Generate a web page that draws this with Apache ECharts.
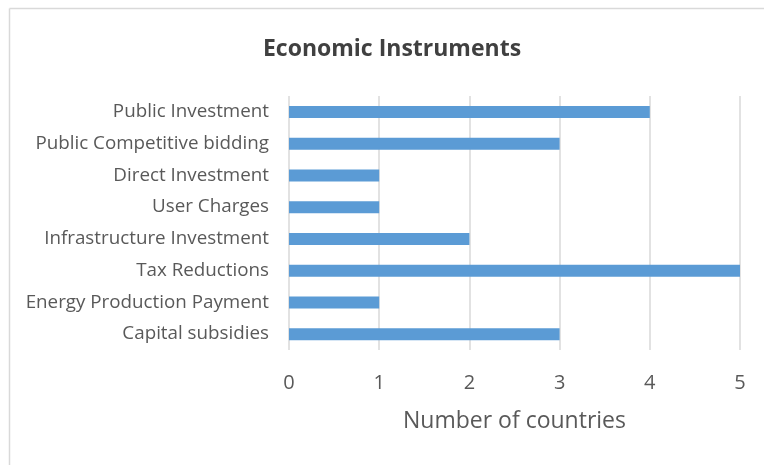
<!DOCTYPE html>
<html>
<head>
<meta charset="utf-8">
<script src="https://cdn.jsdelivr.net/npm/echarts@6/dist/echarts.min.js"></script>
<style>
  html, body { margin: 0; padding: 0; background: #fff; }
  #chart { width: 764px; height: 465px; }
</style>
</head>
<body>
<div id="chart"></div>
<script>
// Instrument names, listed top to bottom
const categories = [
  'Public Investment',
  'Public Competitive bidding',
  'Direct Investment',
  'User Charges',
  'Infrastructure Investment',
  'Tax Reductions',
  'Energy Production Payment',
  'Capital subsidies'
];
// Number of countries using each instrument
const countries = [4, 3, 1, 1, 2, 5, 1, 3];
const xTicks = [0, 1, 2, 3, 4, 5];

const FONT = 'Open Sans';
const chart = echarts.init(document.getElementById('chart'), null, { renderer: 'canvas' });

chart.setOption({
  backgroundColor: '#ffffff',
  animation: false,
  title: {
    text: 'Economic Instruments',
    left: 387,
    top: 33,
    textAlign: 'center',
    textStyle: { fontFamily: FONT, fontSize: 23, fontWeight: 'bold', color: '#404040' }
  },
  // chart frame: only its left and top edges fall inside the canvas
  graphic: [
    { type: 'line', shape: { x1: 9.5, y1: 8.5, x2: 9.5, y2: 470 },
      style: { stroke: '#d9d9d9', lineWidth: 1.5 }, silent: true },
    { type: 'line', shape: { x1: 9.5, y1: 8.5, x2: 770, y2: 8.5 },
      style: { stroke: '#d9d9d9', lineWidth: 1.5 }, silent: true }
  ],
  grid: { left: 289, right: 24, top: 96, bottom: 115, containLabel: false },
  xAxis: {
    type: 'value',
    min: xTicks[0],
    max: xTicks[xTicks.length - 1],
    interval: 1,
    name: 'Number of countries',
    nameLocation: 'middle',
    nameGap: 60,
    nameTextStyle: { fontFamily: FONT, fontSize: 23, color: '#595959' },
    axisLine: { show: false },
    axisTick: { show: false },
    axisLabel: { fontFamily: FONT, fontSize: 20, color: '#595959', margin: 23 },
    splitLine: { show: true, lineStyle: { color: '#d9d9d9', width: 1.5 } }
  },
  yAxis: {
    type: 'category',
    data: categories,
    inverse: true,
    axisLine: { show: false },
    axisTick: { show: false },
    axisLabel: { fontFamily: FONT, fontSize: 18.8, color: '#595959', margin: 20 },
    splitLine: { show: false }
  },
  series: [{
    type: 'bar',
    data: countries,
    barWidth: 12,
    itemStyle: { color: '#5b9bd5' }
  }]
});
</script>
</body>
</html>
